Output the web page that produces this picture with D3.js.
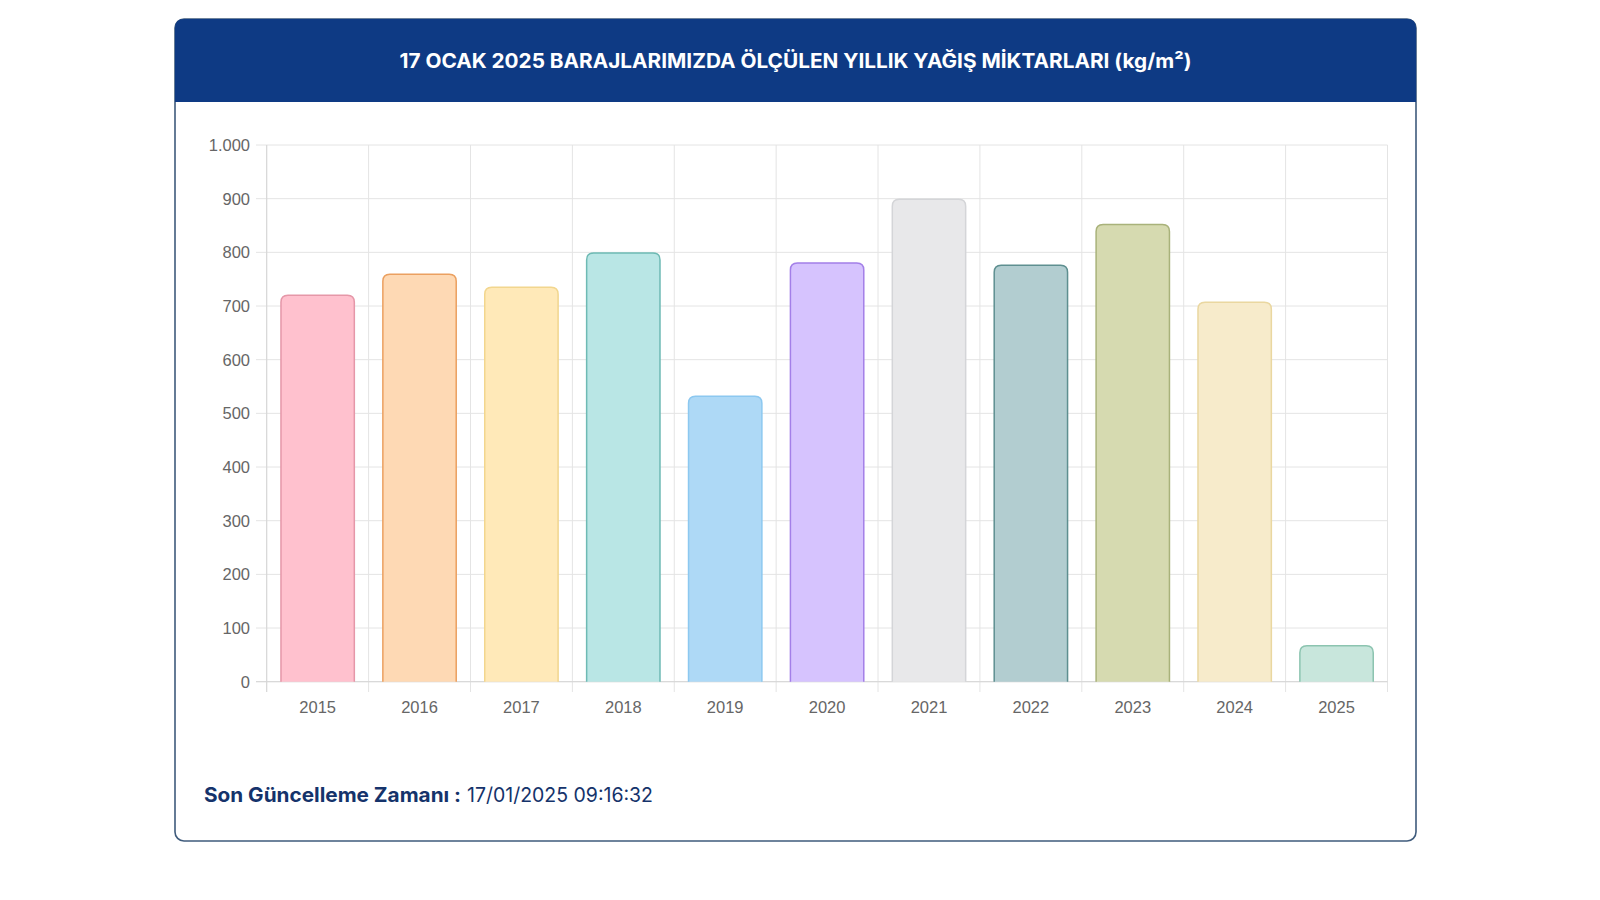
<!DOCTYPE html>
<html>
<head>
<meta charset="utf-8">
<script src="https://cdn.jsdelivr.net/npm/d3@7"></script>
<style>
  html, body { margin: 0; padding: 0; background: #ffffff; }
  svg { display: block; }
</style>
</head>
<body>
<svg id="chart" width="1600" height="900"></svg>
<script>
// ---- DATA ----
const years = ["2015","2016","2017","2018","2019","2020","2021","2022","2023","2024","2025"];
const rainfall = [720, 759, 735, 799, 532, 780, 899, 776, 852, 707, 67];
const fillColors = ["#FFC1CE","#FED9B4","#FFE9B8","#B9E6E5","#AED9F6","#D6C3FE","#E8E8EA","#B2CDD0","#D6DAB0","#F7EBCB","#C8E6DC"];
const strokeColors = ["#E597A8","#EBA060","#F2D68E","#6EBAB4","#8CC8F0","#A37FE8","#D4D5D8","#5E8F90","#A9B27A","#EAD7A0","#8CC4B0"];
const yTicks = [0,100,200,300,400,500,600,700,800,900,1000];
const titleText = "17 OCAK 2025 BARAJLARIMIZDA ÖLÇÜLEN YILLIK YAĞIŞ MİKTARLARI (kg/m²)";
const footerLabel = "Son Güncelleme Zamanı :";
const footerValue = "17/01/2025 09:16:32";

const svg = d3.select("#chart");

// ---- CARD ----
const card = {x: 175, y: 19, w: 1241, h: 822, r: 9, headH: 83};
svg.append("rect")
  .attr("x", card.x).attr("y", card.y).attr("width", card.w).attr("height", card.h)
  .attr("rx", card.r).attr("fill", "#ffffff").attr("stroke", "#3f5b7c").attr("stroke-width", 1.6);
const hx = card.x, hy = card.y, hw = card.w, hh = card.headH, r = card.r;
svg.append("path")
  .attr("d", `M${hx},${hy+hh} L${hx},${hy+r} Q${hx},${hy} ${hx+r},${hy} L${hx+hw-r},${hy} Q${hx+hw},${hy} ${hx+hw},${hy+r} L${hx+hw},${hy+hh} Z`)
  .attr("fill", "#0e3a84");

svg.append("text")
  .attr("x", 795.5).attr("y", 61)
  .attr("text-anchor", "middle").attr("dominant-baseline", "central")
  .attr("fill", "#ffffff")
  .style("font-family", "Inter, 'Open Sans', sans-serif")
  .style("font-weight", 700).style("font-size", "20px")
  .attr("textLength", 792).attr("lengthAdjust", "spacingAndGlyphs")
  .text(titleText);

// ---- SCALES ----
const x = d3.scaleBand().domain(years).range([266.7, 1387.5]).padding(0);
const y = d3.scaleLinear().domain([0, 1000]).range([681.7, 145]);

const g = svg.append("g");

g.selectAll("line.hgrid").data(yTicks).join("line")
  .attr("class", "hgrid")
  .attr("x1", 256).attr("x2", 1387.5)
  .attr("y1", d => y(d)).attr("y2", d => y(d))
  .attr("stroke", "#e4e4e4").attr("stroke-width", 1);

const vEdges = years.map(d => x(d)).concat([x.range()[1]]);
g.selectAll("line.vgrid").data(vEdges).join("line")
  .attr("class", "vgrid")
  .attr("x1", d => d).attr("x2", d => d)
  .attr("y1", 145).attr("y2", 692)
  .attr("stroke", "#e4e4e4").attr("stroke-width", 1);

g.append("line").attr("x1", 266.7).attr("x2", 266.7).attr("y1", 145).attr("y2", 692)
  .attr("stroke", "#d6d6d6").attr("stroke-width", 1);
g.append("line").attr("x1", 256).attr("x2", 1387.5).attr("y1", y(0)).attr("y2", y(0))
  .attr("stroke", "#d6d6d6").attr("stroke-width", 1);

const fmt = d3.formatLocale({decimal: ",", thousands: ".", grouping: [3], currency: ["", ""]}).format(",d");
g.selectAll("text.ylab").data(yTicks).join("text")
  .attr("class", "ylab")
  .attr("x", 250).attr("y", d => y(d))
  .attr("text-anchor", "end").attr("dominant-baseline", "central")
  .attr("fill", "#666666")
  .style("font-family", "'Liberation Sans', Arial, sans-serif").style("font-size", "16.5px")
  .text(d => fmt(d));

g.selectAll("text.xlab").data(years).join("text")
  .attr("class", "xlab")
  .attr("x", d => x(d) + x.bandwidth() / 2).attr("y", 707)
  .attr("text-anchor", "middle").attr("dominant-baseline", "central")
  .attr("fill", "#666666")
  .style("font-family", "'Liberation Sans', Arial, sans-serif").style("font-size", "16.5px")
  .text(d => d);

const barW = x.bandwidth() * 0.72;
function barPath(x0, w, yTop, yBase, rad) {
  const rr = Math.min(rad, w / 2, (yBase - yTop));
  return `M${x0},${yBase} L${x0},${yTop + rr} Q${x0},${yTop} ${x0 + rr},${yTop} ` +
         `L${x0 + w - rr},${yTop} Q${x0 + w},${yTop} ${x0 + w},${yTop + rr} L${x0 + w},${yBase}`;
}
const data = years.map((yr, i) => ({yr, v: rainfall[i], fill: fillColors[i], stroke: strokeColors[i]}));
g.selectAll("path.bar").data(data).join("path")
  .attr("class", "bar")
  .attr("d", d => barPath(x(d.yr) + (x.bandwidth() - barW) / 2, barW, y(d.v), y(0), 7))
  .attr("fill", d => d.fill)
  .attr("stroke", d => d.stroke)
  .attr("stroke-width", 1.5);

// ---- FOOTER ----
svg.append("text")
  .attr("x", 204).attr("y", 795)
  .attr("dominant-baseline", "central")
  .attr("fill", "#15336b")
  .style("font-family", "Inter, 'Open Sans', sans-serif").style("font-size", "20px").style("font-weight", 700)
  .attr("textLength", 257).attr("lengthAdjust", "spacingAndGlyphs")
  .text(footerLabel);
svg.append("text")
  .attr("x", 467).attr("y", 795)
  .attr("dominant-baseline", "central")
  .attr("fill", "#15336b")
  .style("font-family", "Inter, 'Open Sans', sans-serif").style("font-size", "20px").style("font-weight", 400)
  .attr("textLength", 186).attr("lengthAdjust", "spacingAndGlyphs")
  .text(footerValue);
</script>
</body>
</html>
